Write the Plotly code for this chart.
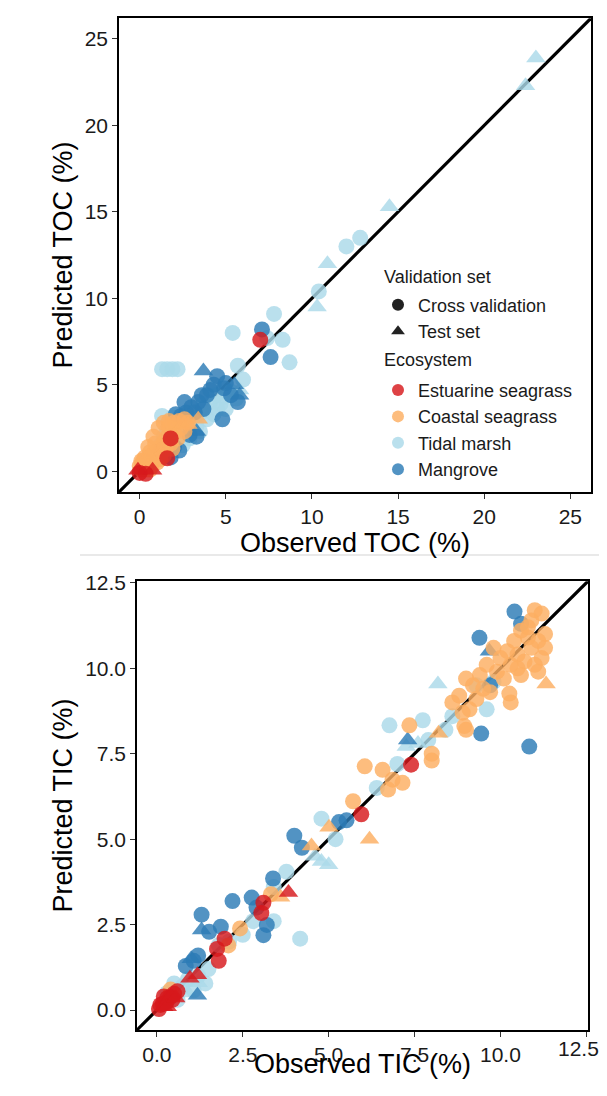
import plotly.graph_objects as go

# ---------------- data (observed, predicted) ----------------
ECOSYSTEMS = ["Estuarine seagrass", "Coastal seagrass", "Tidal marsh", "Mangrove"]
ECO_COLORS = ["#d7191c", "#fdae61", "#abd9e9", "#2c7bb6"]
SET_NAMES = ["Cross validation", "Test set"]
SET_SYMBOLS = ["circle", "triangle-up"]
LEGEND_TITLES = ["Validation set", "Ecosystem"]

TOC_TICKS = [0, 5, 10, 15, 20, 25]
TOC_TICK_LABELS = ["0", "5", "10", "15", "20", "25"]
TIC_TICKS = [0, 2.5, 5, 7.5, 10, 12.5]
TIC_TICK_LABELS = ["0.0", "2.5", "5.0", "7.5", "10.0", "12.5"]

# --- TOC panel ---
TOC_TIDAL_CV = [(12.0, 13.0), (12.8, 13.5), (10.4, 10.4), (7.8, 9.1), (8.3, 7.6), (8.7, 6.3),
                (5.4, 8.0), (1.3, 5.9), (1.6, 5.9), (1.9, 5.9), (2.2, 5.9), (5.7, 6.1),
                (6.0, 5.3), (7.4, 7.7),
                (4.1, 4.0), (4.5, 3.6), (4.9, 4.3), (5.3, 4.6), (3.6, 3.4), (3.1, 3.0), (3.3, 2.6),
                (2.7, 2.2), (2.4, 2.6), (2.0, 2.7), (2.9, 1.9), (3.7, 3.9), (4.3, 3.3), (1.6, 2.4),
                (1.4, 2.0), (1.2, 1.5), (1.0, 1.1), (0.8, 0.9), (1.9, 3.1), (0.4, 0.6), (3.9, 3.0),
                (5.6, 4.2), (4.7, 3.9), (3.5, 2.3), (2.2, 1.6), (4.4, 4.4), (5.0, 3.6),
                (1.3, 3.2), (2.5, 1.5)]
TOC_TIDAL_TEST = [(23.0, 23.9), (22.4, 22.3), (14.5, 15.3), (10.9, 12.0), (10.3, 9.5),
                  (5.8, 4.7), (3.1, 2.2), (2.6, 1.8)]
TOC_MANGROVE_CV = [(7.1, 8.2), (7.6, 6.6), (4.5, 5.5), (4.3, 5.0), (4.9, 4.8), (5.3, 4.4),
                   (5.7, 4.0), (3.9, 4.4), (3.4, 4.0), (3.0, 3.7), (2.7, 3.4), (2.4, 3.2),
                   (2.1, 3.3), (4.8, 3.0), (3.3, 2.0), (2.9, 2.1), (1.2, 1.2), (1.6, 1.0),
                   (2.0, 1.4), (3.6, 4.4), (2.6, 4.0), (3.2, 3.4), (5.0, 5.1), (4.1, 4.7),
                   (3.7, 3.6), (2.3, 1.2), (1.8, 0.8)]
TOC_MANGROVE_TEST = [(3.7, 5.8), (5.5, 5.0), (5.8, 4.4), (3.3, 2.3)]
TOC_COASTAL_CV = [(0.1, 0.1), (0.2, 0.3), (0.3, 0.2), (0.4, 0.5), (0.5, 0.4), (0.6, 0.7),
                  (0.7, 0.5), (0.8, 0.9), (0.9, 0.7), (1.0, 1.2), (1.1, 0.9), (1.2, 1.4),
                  (1.3, 1.1), (1.4, 1.7), (1.5, 1.3), (1.6, 2.0), (1.8, 1.6), (2.0, 2.2),
                  (2.2, 1.9), (2.4, 2.5), (2.6, 2.3), (1.1, 2.5), (1.4, 2.8), (2.8, 2.8),
                  (0.3, 0.8), (0.6, 1.1), (0.9, 1.6), (0.4, 0.1), (0.7, 0.3), (1.2, 0.7),
                  (2.0, 2.8), (1.7, 2.6), (2.3, 2.9), (0.0, 0.3), (0.2, 0.6), (0.5, 1.4),
                  (0.8, 2.0), (1.0, 0.5), (1.4, 0.9), (1.9, 1.3), (2.6, 3.0), (1.7, 2.9),
                  (0.1, 0.6), (0.6, 0.1)]
TOC_COASTAL_TEST = [(3.4, 3.0), (2.8, 2.7), (0.5, 0.9)]
TOC_ESTUARINE_CV = [(7.0, 7.6), (1.8, 1.9), (0.0, -0.1), (0.35, -0.15), (1.6, 0.75)]
TOC_ESTUARINE_TEST = [(-0.1, 0.05), (0.75, 0.05)]

# --- TIC panel ---
TIC_TIDAL_CV = [(6.77, 8.33), (7.74, 8.48), (4.79, 5.6), (3.77, 4.05), (4.17, 2.09), (0.73, 0.68),
                (1.07, 0.58), (1.41, 0.78), (0.5, 0.78), (7.9, 7.9), (8.6, 8.6), (9.3, 9.5),
                (9.6, 8.8), (7.0, 7.2), (6.4, 6.5), (2.5, 2.2), (2.8, 2.6), (3.4, 3.6),
                (1.8, 1.9), (1.5, 1.2), (0.3, 0.5), (0.6, 0.3), (0.9, 0.9), (2.1, 2.0),
                (3.4, 2.6), (5.2, 5.0), (8.4, 8.2), (9.8, 9.6), (0.2, 0.2), (1.2, 1.0)]
TIC_TIDAL_TEST = [(8.18, 9.54), (7.26, 7.71), (4.79, 4.35), (5.0, 4.25), (4.6, 4.5),
                  (7.6, 7.8), (1.2, 0.8), (0.9, 0.5)]
TIC_MANGROVE_CV = [(10.41, 11.66), (9.39, 10.89), (9.44, 8.09), (10.84, 7.71), (4.0, 5.1),
                   (4.22, 4.75), (5.52, 5.55), (3.38, 3.85), (2.2, 3.19), (2.76, 3.29),
                   (1.3, 2.79), (3.2, 2.49), (3.1, 2.19), (1.86, 2.44), (1.52, 2.29),
                   (0.84, 1.29), (1.07, 1.44), (10.6, 11.3), (5.3, 5.5), (2.9, 3.0),
                   (1.2, 1.6), (9.7, 9.5)]
TIC_MANGROVE_TEST = [(9.68, 10.5), (1.3, 2.34), (1.18, 0.43), (1.0, 1.5), (7.3, 7.9)]
TIC_COASTAL_CV = [(11.0, 11.7), (11.2, 11.6), (10.9, 11.4), (10.6, 11.1), (10.8, 10.9),
                  (11.1, 10.8), (10.4, 10.8), (10.2, 10.5), (10.5, 10.4), (10.9, 10.6),
                  (11.2, 10.3), (11.0, 10.1), (10.7, 10.2), (10.3, 10.1), (10.0, 10.3),
                  (9.9, 9.9), (10.1, 9.7), (10.6, 9.8), (11.1, 9.9), (11.3, 10.6),
                  (9.6, 10.1), (9.4, 9.8), (9.2, 9.5), (9.5, 9.4), (9.0, 9.7), (8.8, 9.2),
                  (9.3, 9.1), (9.1, 8.8), (8.6, 9.0), (8.9, 8.7), (9.7, 9.3), (10.26, 9.26),
                  (10.3, 9.0), (9.0, 8.2), (7.35, 8.33), (8.0, 7.5), (8.0, 7.3), (6.05, 7.13),
                  (6.57, 7.03), (6.86, 6.74), (7.15, 6.65), (6.73, 6.45), (5.71, 6.11),
                  (8.95, 8.31), (2.42, 2.39), (2.08, 1.89), (3.32, 3.39), (0.4, 0.6),
                  (10.8, 11.2), (11.3, 11.0), (9.8, 10.6), (10.5, 10.0)]
TIC_COASTAL_TEST = [(11.33, 9.54), (6.19, 5.0), (5.01, 5.35), (4.5, 4.8), (8.2, 8.1),
                    (3.6, 3.3)]
TIC_ESTUARINE_CV = [(7.40, 7.18), (5.95, 5.73), (3.1, 3.14), (3.04, 2.84), (1.97, 2.09),
                    (1.8, 1.44), (1.75, 1.79), (0.17, 0.18), (0.39, 0.38), (0.06, 0.03),
                    (0.28, 0.23), (0.5, 0.48), (0.1, 0.15), (0.3, 0.35), (0.45, 0.3),
                    (0.6, 0.55), (0.2, 0.4)]
TIC_ESTUARINE_TEST = [(3.83, 3.44), (0.96, 0.93), (1.18, 1.03), (0.2, 0.1), (0.4, 0.4),
                      (0.3, 0.1), (0.55, 0.35)]

TOC_DATA = {
    "Estuarine seagrass": (TOC_ESTUARINE_CV, TOC_ESTUARINE_TEST),
    "Coastal seagrass": (TOC_COASTAL_CV, TOC_COASTAL_TEST),
    "Tidal marsh": (TOC_TIDAL_CV, TOC_TIDAL_TEST),
    "Mangrove": (TOC_MANGROVE_CV, TOC_MANGROVE_TEST),
}
TIC_DATA = {
    "Estuarine seagrass": (TIC_ESTUARINE_CV, TIC_ESTUARINE_TEST),
    "Coastal seagrass": (TIC_COASTAL_CV, TIC_COASTAL_TEST),
    "Tidal marsh": (TIC_TIDAL_CV, TIC_TIDAL_TEST),
    "Mangrove": (TIC_MANGROVE_CV, TIC_MANGROVE_TEST),
}

TOC_RANGE = [-1.2, 26.2]
TIC_RANGE = [-0.58, 12.55]

# ---------------- figure ----------------
# the html page puts the plot div at (8, 17) in the window, and the page photo comes
# out slightly squeezed vertically (factor SQ); targets below are window pixels
OFF_X, OFF_Y = 8, 17
SQ = 0.989
W, H = 591, 1071
FONT = "Liberation Sans, Arial, Helvetica, sans-serif"
DRAW_ORDER = ["Tidal marsh", "Mangrove", "Coastal seagrass", "Estuarine seagrass"]
COLOR = dict(zip(ECOSYSTEMS, ECO_COLORS))
ALPHA = 0.82
TICK_FONT = dict(family=FONT, size=21, color="#1a1a1a")
TITLE_FONT = dict(family=FONT, size=27, color="black")


def pxx(a):
    return (a - OFF_X) / W


def pxy(a):
    return 1 - (a / SQ - OFF_Y) / H


def dom_x(a, b):
    return [pxx(a), pxx(b)]


def dom_y(top, bottom):
    return [pxy(bottom), pxy(top)]


fig = go.Figure()


def add_panel(data, rng, xa, ya):
    fig.add_trace(go.Scatter(x=rng, y=rng, mode="lines", xaxis=xa, yaxis=ya,
                             line=dict(color="black", width=3.2), showlegend=False,
                             hoverinfo="skip"))
    for eco in DRAW_ORDER:
        for pts, sym in zip(data[eco], SET_SYMBOLS):
            fig.add_trace(go.Scatter(
                x=[p[0] for p in pts], y=[p[1] for p in pts], mode="markers",
                xaxis=xa, yaxis=ya, showlegend=False,
                marker=dict(symbol=sym, size=16 if sym == "circle" else 17,
                            color=COLOR[eco], opacity=ALPHA, line=dict(width=0)),
                name=eco))


add_panel(TOC_DATA, TOC_RANGE, "x", "y")
add_panel(TIC_DATA, TIC_RANGE, "x2", "y2")

for name, sym in zip(SET_NAMES, SET_SYMBOLS):
    fig.add_trace(go.Scatter(x=[None], y=[None], mode="markers", name=name,
                             legend="legend",
                             marker=dict(symbol=sym, size=15, color="#222222")))
for eco in ECOSYSTEMS:
    fig.add_trace(go.Scatter(x=[None], y=[None], mode="markers", name=eco,
                             legend="legend2",
                             marker=dict(symbol="circle", size=15, color=COLOR[eco],
                                         opacity=ALPHA)))

axis_common = dict(showline=True, mirror=True, linecolor="black", linewidth=1.6,
                   ticks="outside", ticklen=5, tickwidth=1.2, tickcolor="#333",
                   showgrid=False, zeroline=False, tickfont=TICK_FONT)

legend_common = dict(xanchor="left", yanchor="top", bgcolor="rgba(0,0,0,0)",
                     font=dict(family=FONT, size=18, color="#1a1a1a"),
                     tracegroupgap=0, itemsizing="constant")

# the last TIC x label sits on the window edge: it is written as an annotation
# right-aligned to the figure edge so that it is not hidden for overflowing the div
tic_x_text = TIC_TICK_LABELS[:-1] + [""]

fig.update_layout(
    width=W, height=H,
    margin=dict(l=0, r=0, t=0, b=0),
    paper_bgcolor="white", plot_bgcolor="white",
    font=dict(family=FONT, color="black"),
    xaxis=dict(axis_common, domain=dom_x(119, 591), range=TOC_RANGE,
               tickvals=TOC_TICKS, ticktext=TOC_TICK_LABELS, anchor="y",
               title=dict(text="Observed TOC (%)", font=TITLE_FONT, standoff=3)),
    yaxis=dict(axis_common, domain=dom_y(17, 490), range=TOC_RANGE,
               tickvals=TOC_TICKS, ticktext=TOC_TICK_LABELS, anchor="x",
               title=dict(text="Predicted TOC (%)", font=TITLE_FONT, standoff=4)),
    xaxis2=dict(axis_common, domain=dom_x(137, 588), range=TIC_RANGE,
                tickvals=TIC_TICKS, ticktext=tic_x_text, anchor="y2"),
    yaxis2=dict(axis_common, domain=dom_y(579, 1027), range=TIC_RANGE,
                tickvals=TIC_TICKS, ticktext=TIC_TICK_LABELS, anchor="x2",
                title=dict(text="Predicted TIC (%)", font=TITLE_FONT, standoff=5)),
    legend=dict(legend_common, x=pxx(378), y=pxy(285)),
    legend2=dict(legend_common, x=pxx(378), y=pxy(370)),
    showlegend=True,
)

# last x tick label of the TIC panel
fig.add_annotation(text=TIC_TICK_LABELS[-1], xref="paper", yref="paper", x=1, y=pxy(1034),
                   xanchor="right", yanchor="top", showarrow=False, font=TICK_FONT,
                   borderpad=0, borderwidth=0)
# x title of the TIC panel, kept inside the bottom edge of the figure
fig.add_annotation(text="Observed TIC (%)", xref="paper", yref="paper",
                   x=(pxx(137) + pxx(588)) / 2, y=0, xanchor="center", yanchor="bottom",
                   showarrow=False, font=TITLE_FONT, borderpad=0, borderwidth=0)

# legend headings
for title, ypx in zip(LEGEND_TITLES, [275, 358]):
    fig.add_annotation(text=title, xref="paper", yref="paper", x=pxx(382), y=pxy(ypx),
                       xanchor="left", yanchor="middle", showarrow=False,
                       font=dict(family=FONT, size=18, color="#1a1a1a"))

# faint separator between the two panels of the source document
fig.add_shape(type="line", xref="paper", yref="paper", x0=pxx(80), x1=1,
              y0=pxy(553), y1=pxy(553), line=dict(color="#e2e2e2", width=1.5))

fig.write_html("out.html")
